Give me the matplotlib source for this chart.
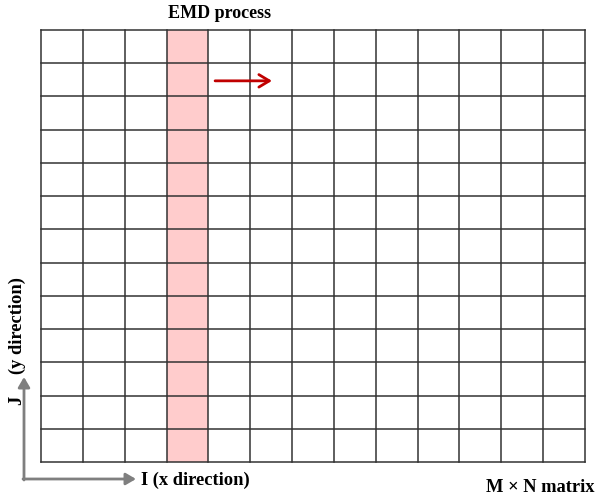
import numpy as np
import matplotlib
matplotlib.use("Agg")
import matplotlib.pyplot as plt
from matplotlib.patches import Rectangle, FancyArrowPatch

# grid size and the column being processed
n_cols = 13
n_rows = 13
highlight_col = 3

title_text = "EMD process"
x_label = "I (x direction)"
y_label_j = "J"
y_label_dir = "(y direction)"
corner_text = "M \u00d7 N matrix"

W, H = 595, 496
fig = plt.figure(figsize=(W / 100, H / 100), dpi=100)
plt.rcParams['font.family'] = ['Liberation Serif', 'DejaVu Serif']

# axes placed where the grid sits in the picture
gl, gr, gt, gb = 41, 585, 30, 462
ax = fig.add_axes([gl / W, 1 - gb / H, (gr - gl) / W, (gb - gt) / H])
ax.set_xlim(0, n_cols)
ax.set_ylim(n_rows, 0)
ax.axis('off')

# highlighted column
ax.add_patch(Rectangle((highlight_col, 0), 1, n_rows, facecolor='#ffcccc',
                       edgecolor='none', zorder=1))

# grid lines
for c in range(n_cols + 1):
    ax.plot([c, c], [0, n_rows], color='#333333', lw=1.1, zorder=2,
            clip_on=False, solid_capstyle='projecting')
for r in range(n_rows + 1):
    ax.plot([0, n_cols], [r, r], color='#333333', lw=1.1, zorder=2,
            clip_on=False, solid_capstyle='projecting')

# red arrow showing direction of the process
ax.add_patch(FancyArrowPatch((highlight_col + 1.16, 1.53), (highlight_col + 2.52, 1.53),
                             arrowstyle='->,head_length=7.5,head_width=4.5',
                             mutation_scale=1, color='#c00000', lw=2,
                             shrinkA=0, shrinkB=0, zorder=3))

# title
fig.text(220 / W, 1 - 14 / H, title_text, ha='center', va='center',
         fontsize=13, fontweight='bold')

# grey axis arrows at the lower left
ox, oy = 24, 479
fig.patches.append(FancyArrowPatch(
    (ox / W, 1 - (oy + 1) / H), (ox / W, 1 - 377 / H), transform=fig.transFigure,
    arrowstyle='-|>,head_length=6,head_width=3.5', color='#7f7f7f', lw=2,
    mutation_scale=1, shrinkA=0, shrinkB=0))
fig.patches.append(FancyArrowPatch(
    ((ox - 1) / W, 1 - oy / H), (136 / W, 1 - oy / H), transform=fig.transFigure,
    arrowstyle='-|>,head_length=6,head_width=3.5', color='#7f7f7f', lw=2,
    mutation_scale=1, shrinkA=0, shrinkB=0))

fig.text(141 / W, 1 - 480 / H, x_label, ha='left', va='center',
         fontsize=13.3, fontweight='bold')
fig.text(17 / W, 1 - 400 / H, y_label_j, ha='center', va='center', rotation=90,
         fontsize=13.3, fontweight='bold')
fig.text(17 / W, 1 - 326 / H, y_label_dir, ha='center', va='center', rotation=90,
         fontsize=13.3, fontweight='bold')
fig.text(594 / W, 1 - 488 / H, corner_text, ha='right', va='center',
         fontsize=13.3, fontweight='bold')

fig.savefig('out.png', dpi=100)
